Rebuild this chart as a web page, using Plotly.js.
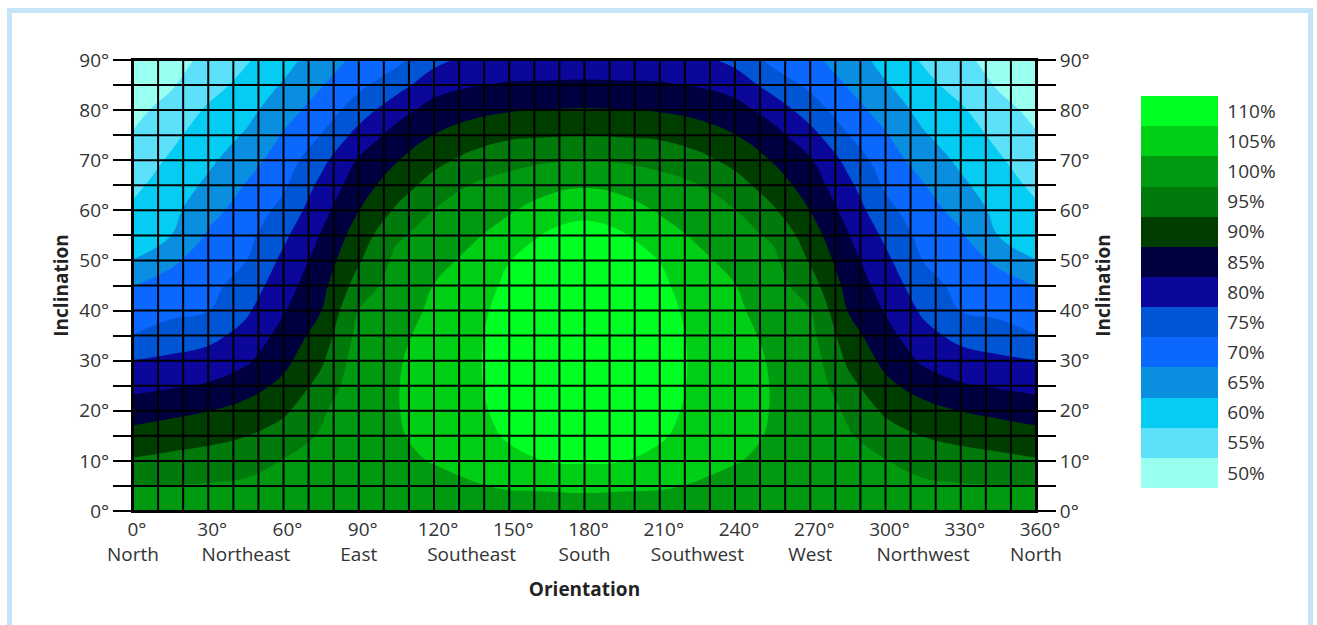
<!DOCTYPE html>
<html>
<head>
<meta charset="utf-8">
<script src="https://cdn.plot.ly/plotly-3.0.1.min.js"></script>
<style>
  html, body { margin: 0; padding: 0; background: #ffffff; }
  #chart { width: 1317px; height: 625px; }
  #frame {
    position: absolute; left: 7px; top: 8px; right: 4px; bottom: -20px;
    border-top: 5px solid #c6e4f8; border-left: 5px solid #c6e4f8; border-right: 5px solid #c6e4f8;
    pointer-events: none;
  }
</style>
</head>
<body>
<div id="chart"></div>
<div id="frame"></div>
<script>
// Orientation (degrees, 0 = North) and inclination (degrees) of the sampling grid
const orientation = [0, 15, 30, 45, 60, 75, 90, 105, 120, 135, 150, 165, 180,
                     195, 210, 225, 240, 255, 270, 285, 300, 315, 330, 345, 360];
const inclination = [0, 5, 10, 15, 20, 25, 30, 35, 40, 45, 50, 55, 60, 65, 70, 75, 80, 85, 90];

// Relative yield (%) per inclination row, along the orientation values above
const incl0  = [100, 100, 100, 100, 100, 100, 100, 100, 100, 100, 100, 100, 100, 100, 100, 100, 100, 100, 100, 100, 100, 100, 100, 100, 100];
const incl5  = [97.6, 97.7, 97.9, 98.3, 98.9, 99.3, 100.6, 101.0, 101.3, 102.1, 103.0, 103.2, 103.5, 103.2, 103.0, 102.1, 101.3, 101.0, 100.6, 99.3, 98.9, 98.3, 97.9, 97.7, 97.6];
const incl10 = [93.0, 93.9, 94.6, 95.8, 97.7, 98.6, 101.0, 101.7, 102.7, 104.0, 106.0, 107.6, 108.0, 107.6, 106.0, 104.0, 102.7, 101.7, 101.0, 98.6, 97.7, 95.8, 94.6, 93.9, 93.0];
const incl15 = [89.2, 90.1, 91.1, 92.4, 94.8, 98.0, 101.2, 102.1, 103.7, 105.2, 108.2, 109.8, 110.5, 109.8, 108.2, 105.2, 103.7, 102.1, 101.2, 98.0, 94.8, 92.4, 91.1, 90.1, 89.2];
const incl20 = [85.1, 86.3, 87.4, 89.2, 91.6, 96.7, 101.2, 102.3, 104.3, 106.0, 109.3, 111.2, 112.0, 111.2, 109.3, 106.0, 104.3, 102.3, 101.2, 96.7, 91.6, 89.2, 87.4, 86.3, 85.1];
const incl25 = [81.1, 82.0, 83.0, 85.4, 88.7, 94.1, 100.8, 102.3, 104.5, 106.4, 110.0, 112.0, 112.3, 112.0, 110.0, 106.4, 104.5, 102.3, 100.8, 94.1, 88.7, 85.4, 83.0, 82.0, 81.1];
const incl30 = [77.6, 78.5, 79.5, 81.7, 86.2, 91.7, 100.2, 102.1, 104.3, 106.5, 110.2, 112.2, 112.4, 112.2, 110.2, 106.5, 104.3, 102.1, 100.2, 91.7, 86.2, 81.7, 79.5, 78.5, 77.6];
const incl35 = [72.6, 74.6, 76.1, 79.1, 84.2, 89.6, 99.0, 101.6, 103.8, 106.3, 110.0, 112.1, 112.4, 112.1, 110.0, 106.3, 103.8, 101.6, 99.0, 89.6, 84.2, 79.1, 76.1, 74.6, 72.6];
const incl40 = [70.0, 71.4, 72.4, 76.7, 82.1, 87.4, 97.6, 100.8, 103.2, 105.8, 109.4, 111.6, 112.2, 111.6, 109.4, 105.8, 103.2, 100.8, 97.6, 87.4, 82.1, 76.7, 72.4, 71.4, 70.0];
const incl45 = [67.4, 69.2, 71.0, 74.6, 80.4, 85.9, 94.7, 99.8, 102.6, 105.0, 108.5, 110.6, 111.5, 110.6, 108.5, 105.0, 102.6, 99.8, 94.7, 85.9, 80.4, 74.6, 71.0, 69.2, 67.4];
const incl50 = [62.6, 66.7, 69.6, 72.4, 78.6, 84.4, 92.0, 98.7, 100.8, 103.8, 107.4, 109.3, 110.2, 109.3, 107.4, 103.8, 100.8, 98.7, 92.0, 84.4, 78.6, 72.4, 69.6, 66.7, 62.6];
const incl55 = [60.4, 62.4, 68.1, 70.9, 76.5, 82.8, 89.8, 96.8, 99.2, 101.7, 104.7, 108.0, 108.8, 108.0, 104.7, 101.7, 99.2, 96.8, 89.8, 82.8, 76.5, 70.9, 68.1, 62.4, 60.4];
const incl60 = [58.3, 61.0, 66.0, 69.4, 74.0, 80.8, 87.4, 93.2, 97.6, 99.7, 102.0, 104.8, 106.6, 104.8, 102.0, 99.7, 97.6, 93.2, 87.4, 80.8, 74.0, 69.4, 66.0, 61.0, 58.3];
const incl65 = [56.5, 59.6, 63.5, 67.8, 71.7, 78.7, 85.2, 90.1, 94.4, 97.7, 99.3, 101.0, 102.0, 101.0, 99.3, 97.7, 94.4, 90.1, 85.2, 78.7, 71.7, 67.8, 63.5, 59.6, 56.5];
const incl70 = [54.8, 58.1, 61.5, 65.5, 69.8, 76.1, 83.0, 87.2, 91.1, 94.0, 96.1, 97.0, 97.8, 97.0, 96.1, 94.0, 91.1, 87.2, 83.0, 76.1, 69.8, 65.5, 61.5, 58.1, 54.8];
const incl75 = [52.8, 56.4, 59.8, 63.0, 67.9, 72.6, 79.2, 84.3, 87.6, 90.0, 91.6, 92.1, 92.6, 92.1, 91.6, 90.0, 87.6, 84.3, 79.2, 72.6, 67.9, 63.0, 59.8, 56.4, 52.8];
const incl80 = [51.3, 54.0, 58.2, 60.9, 65.5, 69.7, 75.0, 80.5, 84.4, 86.0, 87.1, 87.6, 87.9, 87.6, 87.1, 86.0, 84.4, 80.5, 75.0, 69.7, 65.5, 60.9, 58.2, 54.0, 51.3];
const incl85 = [50.2, 52.0, 55.6, 59.0, 63.0, 67.2, 71.4, 75.5, 80.5, 82.2, 82.9, 83.0, 83.2, 83.0, 82.9, 82.2, 80.5, 75.5, 71.4, 67.2, 63.0, 59.0, 55.6, 52.0, 50.2];
const incl90 = [49.0, 50.8, 53.6, 57.0, 60.5, 65.5, 68.5, 71.2, 76.0, 79.0, 80.0, 80.2, 80.0, 80.2, 80.0, 79.0, 76.0, 71.2, 68.5, 65.5, 60.5, 57.0, 53.6, 50.8, 49.0];

// Legend bands (%) and their colours, bottom to top
const bandLabels = [50, 55, 60, 65, 70, 75, 80, 85, 90, 95, 100, 105, 110];
const bandColors = ['#99ffee', '#5de0fa', '#05ccf2', '#0a8fe0', '#0a68ff', '#0055d5', '#0c079b',
                    '#000040', '#003e00', '#007a0a', '#009a10', '#00d015', '#00ff22'];

// Axis tick labels
const dirValues = [0, 45, 90, 135, 180, 225, 270, 315, 360];
const dirNames = ['North', 'Northeast', 'East', 'Southeast', 'South', 'Southwest', 'West', 'Northwest', 'North'];

const yieldRows = [incl0, incl5, incl10, incl15, incl20, incl25, incl30, incl35, incl40, incl45,
                   incl50, incl55, incl60, incl65, incl70, incl75, incl80, incl85, incl90];

const n = bandColors.length;
const step = bandLabels[1] - bandLabels[0];
// transparent half-bands outside the legend range so the colour bar shows full bands only
const clear = 'rgba(255,255,255,0)';
const stops = [clear].concat(bandColors, [clear]);
const colorscale = stops.map((c, i) => [i / (stops.length - 1), c]);

const barPx = 392;                      // visible colour bar height
const barLenPx = barPx * (n + 1) / n;   // include the two transparent half bands

const trace = {
  type: 'contour',
  x: orientation,
  y: inclination,
  z: yieldRows,
  autocontour: false,
  contours: {
    start: bandLabels[0] - step / 2,
    end: bandLabels[n - 1] + step / 2,
    size: step,
    coloring: 'fill',
    showlines: false
  },
  line: { width: 0, smoothing: 1.2 },
  colorscale: colorscale,
  hoverinfo: 'skip',
  colorbar: {
    x: 1.1163, xanchor: 'left', xref: 'paper',
    y: 0.4856, yanchor: 'middle',
    len: barLenPx, lenmode: 'pixels',
    thickness: 77, thicknessmode: 'pixels',
    outlinewidth: 0, xpad: 0, ypad: 0,
    tickmode: 'array', tickvals: bandLabels, ticktext: bandLabels.map(v => v + '%'),
    ticks: 'outside', ticklen: 6, tickcolor: 'rgba(0,0,0,0)',
    tickfont: { family: 'Open Sans, sans-serif', size: 19, color: '#333' }
  }
};

// empty helper traces so the overlaid axes (direction names, right-hand inclination) are drawn
const helperX2 = { type: 'scatter', mode: 'markers', x: [null], y: [null], xaxis: 'x2', yaxis: 'y', hoverinfo: 'skip', showlegend: false };
const helperY2 = { type: 'scatter', mode: 'markers', x: [null], y: [null], xaxis: 'x', yaxis: 'y2', hoverinfo: 'skip', showlegend: false };

// Grid lines drawn over the filled contours
const shapes = [];
for (let d = 0; d <= 360; d += 10) {
  shapes.push({ type: 'line', xref: 'x', yref: 'y', x0: d, x1: d, y0: 0, y1: 90,
                layer: 'above', line: { color: '#000', width: 2 } });
}
for (let d = 0; d <= 90; d += 5) {
  shapes.push({ type: 'line', xref: 'x', yref: 'y', x0: 0, x1: 360, y0: d, y1: d,
                layer: 'above', line: { color: '#000', width: 2 } });
}

const tickFont = { family: 'Open Sans, sans-serif', size: 19, color: '#333' };
const titleFont = { family: 'Open Sans, sans-serif', size: 19, color: '#222', weight: 'bold' };

const yCommon = {
  range: [0, 90], autorange: false, fixedrange: true,
  tickmode: 'linear', tick0: 0, dtick: 10, ticksuffix: '°',
  ticks: 'outside', ticklen: 18, tickwidth: 2, tickcolor: '#000',
  minor: { dtick: 5, ticks: 'outside', ticklen: 18, tickwidth: 2, tickcolor: '#000', showgrid: false },
  showgrid: false, zeroline: false,
  showline: true, linecolor: '#000', linewidth: 2,
  tickfont: tickFont
};

const layout = {
  width: 1317, height: 625,
  margin: { l: 133, r: 281, t: 60, b: 114 },
  paper_bgcolor: 'rgba(0,0,0,0)', plot_bgcolor: '#ffffff',
  font: { family: 'Open Sans, sans-serif', color: '#333' },
  showlegend: false,
  xaxis: {
    range: [0, 360], autorange: false, fixedrange: true,
    tickmode: 'linear', tick0: 0, dtick: 30, ticksuffix: '°',
    ticks: '', ticklabelstandoff: 0, ticklabelshift: 4,
    showgrid: false, zeroline: false,
    showline: true, linecolor: '#000', linewidth: 2, mirror: true,
    tickfont: tickFont
  },
  xaxis2: {
    overlaying: 'x', anchor: 'y', side: 'bottom',
    range: [0, 360], autorange: false, fixedrange: true,
    tickmode: 'array', tickvals: dirValues, ticktext: dirNames,
    ticks: '', ticklabelstandoff: 30,
    showgrid: false, zeroline: false, showline: false,
    tickfont: tickFont,
    title: { text: 'Orientation', font: titleFont, standoff: 16 }
  },
  yaxis: Object.assign({}, yCommon, {
    side: 'left', anchor: 'x',
    title: { text: 'Inclination', font: titleFont, standoff: 6 }
  }),
  yaxis2: Object.assign({}, yCommon, {
    side: 'right', anchor: 'x', overlaying: 'y',
    title: { text: 'Inclination', font: titleFont, standoff: 3 }
  }),
  shapes: shapes
};

Plotly.newPlot('chart', [trace, helperX2, helperY2], layout, { displayModeBar: false, staticPlot: true });
</script>
</body>
</html>
